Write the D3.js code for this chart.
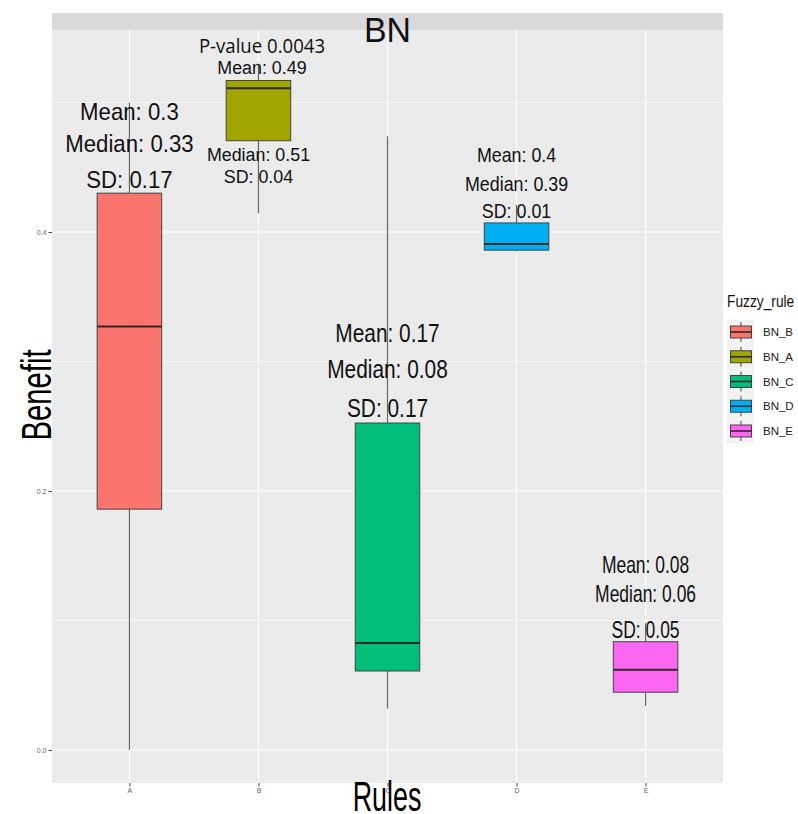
<!DOCTYPE html>
<html>
<head>
<meta charset="utf-8">
<script src="https://cdn.jsdelivr.net/npm/d3@7"></script>
<style>
  body { margin: 0; background: #fff; }
  svg { display: block; font-family: "Liberation Sans", Arial, sans-serif; }
</style>
</head>
<body>
<svg id="chart"></svg>
<script>
// categories and box statistics
var rules = ["A", "B", "C", "D", "E"];
var legendNames = ["BN_B", "BN_A", "BN_C", "BN_D", "BN_E"];
var whiskerLow  = [0.000, 0.4145, 0.032, 0.385, 0.034];
var q1          = [0.186, 0.4705, 0.061, 0.386, 0.0446];
var median      = [0.327, 0.511, 0.0826, 0.3907, 0.062];
var q3          = [0.430, 0.517, 0.2525, 0.407, 0.0836];
var whiskerHigh = [0.500, 0.530, 0.474, 0.421, 0.098];
var fills = ["#fc746e", "#a1a500", "#00be7a", "#00b0f3", "#fc67f2"];

// annotation lines (rule, y in data units, text)
var labelRule = ["A","A","A", "B","B","B","B", "C","C","C", "D","D","D", "E","E","E"];
var labelY = [0.4865, 0.4618, 0.434,
              0.5382, 0.522, 0.4548, 0.4378,
              0.3151, 0.2873, 0.2571,
              0.4543, 0.4317, 0.4108,
              0.1367, 0.1143, 0.0865];
var labelText = ["Mean: 0.3", "Median: 0.33", "SD: 0.17",
                 "P-value 0.0043", "Mean: 0.49", "Median: 0.51", "SD: 0.04",
                 "Mean: 0.17", "Median: 0.08", "SD: 0.17",
                 "Mean: 0.4", "Median: 0.39", "SD: 0.01",
                 "Mean: 0.08", "Median: 0.06", "SD: 0.05"];

var yTicks = [0, 0.2, 0.4];
var yMinor = [0.1, 0.3, 0.5];

var screen = { width: 798, height: 814 };
var panel = { left: 52, right: 723, top: 30, bottom: 783 };

// text look per rule (font size, horizontal squeeze)
var labelStyle = {
  A: { size: 24, sx: 0.925 },
  B: { size: 19, sx: 0.94 },
  C: { size: 25, sx: 0.835 },
  D: { size: 21, sx: 0.85 },
  E: { size: 23, sx: 0.76 }
};

var svg = d3.select("#chart")
  .attr("width", screen.width)
  .attr("height", screen.height);

var xScale = d3.scalePoint()
  .domain(rules)
  .range([panel.left, panel.right])
  .padding(0.6);
var boxW = xScale.step() * 0.5;

var yScale = d3.scaleLinear()
  .domain([-0.0255, 0.556])
  .range([panel.bottom, panel.top]);

// panel background
svg.append("rect")
  .attr("x", panel.left).attr("y", panel.top)
  .attr("width", panel.right - panel.left)
  .attr("height", panel.bottom - panel.top)
  .attr("fill", "#ebebeb");

// strip
svg.append("rect")
  .attr("x", panel.left).attr("y", 13)
  .attr("width", panel.right - panel.left)
  .attr("height", panel.top - 13)
  .attr("fill", "#d9d9d9");

// grid
var grid = svg.append("g");
grid.selectAll(".minor").data(yMinor).enter().append("line")
  .attr("x1", panel.left).attr("x2", panel.right)
  .attr("y1", function(d) { return yScale(d); })
  .attr("y2", function(d) { return yScale(d); })
  .attr("stroke", "#fff").attr("stroke-width", 0.6);
grid.selectAll(".major").data(yTicks).enter().append("line")
  .attr("x1", panel.left).attr("x2", panel.right)
  .attr("y1", function(d) { return yScale(d); })
  .attr("y2", function(d) { return yScale(d); })
  .attr("stroke", "#fff").attr("stroke-width", 1.2);
grid.selectAll(".vert").data(rules).enter().append("line")
  .attr("x1", function(d) { return xScale(d); })
  .attr("x2", function(d) { return xScale(d); })
  .attr("y1", panel.top).attr("y2", panel.bottom)
  .attr("stroke", "#fff").attr("stroke-width", 1.2);

// axes
var yAxis = d3.axisLeft(yScale)
  .tickValues(yTicks)
  .tickFormat(d3.format(".1f"))
  .tickSize(3.5)
  .tickPadding(2);
var yG = svg.append("g")
  .attr("transform", "translate(" + panel.left + ",0)")
  .call(yAxis);
yG.select(".domain").remove();
yG.selectAll("line").attr("stroke", "#444");
yG.selectAll("text").attr("font-size", 7).attr("fill", "#666")
  .attr("font-family", "Liberation Sans, Arial, sans-serif");

var xAxis = d3.axisBottom(xScale).tickSize(3.5).tickPadding(2);
var xG = svg.append("g")
  .attr("transform", "translate(0," + panel.bottom + ")")
  .call(xAxis);
xG.select(".domain").remove();
xG.selectAll("line").attr("stroke", "#444");
xG.selectAll("text").attr("font-size", 7).attr("fill", "#666")
  .attr("font-family", "Liberation Sans, Arial, sans-serif");

// boxes
var boxes = svg.append("g").selectAll("g")
  .data(rules)
  .enter()
  .append("g");

boxes.append("line")
  .attr("x1", function(d) { return xScale(d); })
  .attr("x2", function(d) { return xScale(d); })
  .attr("y1", function(d, i) { return yScale(whiskerHigh[i]); })
  .attr("y2", function(d, i) { return yScale(q3[i]); })
  .attr("stroke", "#666").attr("stroke-width", 1.2);
boxes.append("line")
  .attr("x1", function(d) { return xScale(d); })
  .attr("x2", function(d) { return xScale(d); })
  .attr("y1", function(d, i) { return yScale(q1[i]); })
  .attr("y2", function(d, i) { return yScale(whiskerLow[i]); })
  .attr("stroke", "#666").attr("stroke-width", 1.2);
boxes.append("rect")
  .attr("x", function(d) { return xScale(d) - boxW / 2; })
  .attr("y", function(d, i) { return yScale(q3[i]); })
  .attr("width", boxW)
  .attr("height", function(d, i) { return yScale(q1[i]) - yScale(q3[i]); })
  .attr("fill", function(d, i) { return fills[i]; })
  .attr("stroke", "#444").attr("stroke-width", 1);
boxes.append("line")
  .attr("x1", function(d) { return xScale(d) - boxW / 2; })
  .attr("x2", function(d) { return xScale(d) + boxW / 2; })
  .attr("y1", function(d, i) { return yScale(median[i]); })
  .attr("y2", function(d, i) { return yScale(median[i]); })
  .attr("stroke", "#2a2a2a").attr("stroke-width", 2);

// annotations
var labels = svg.append("g").selectAll("text")
  .data(labelText)
  .enter()
  .append("text")
  .attr("transform", function(d, i) {
    var r = labelRule[i];
    var dx = (d.indexOf("P-value") == 0 || d == "Mean: 0.49") ? 3.5 : 0;
    return "translate(" + (xScale(r) + dx) + "," + yScale(labelY[i]) + ") scale(" + labelStyle[r].sx + ",1)";
  })
  .attr("text-anchor", "middle")
  .attr("font-size", function(d, i) { return labelStyle[labelRule[i]].size; })
  .attr("font-family", function(d) {
    return d.indexOf("P-value") == 0 ? "'Open Sans', sans-serif" : "'Liberation Sans', Arial, sans-serif";
  })
  .attr("fill", "#111")
  .text(function(d) { return d; });
labels.filter(function(d) { return d.indexOf("P-value") == 0; })
  .attr("font-size", 20)
  .attr("transform", function(d, i) {
    return "translate(" + (xScale("B") + 3.5) + "," + yScale(0.5382) + ") scale(0.93,1)";
  });

// strip title
svg.append("text")
  .attr("transform", "translate(" + ((panel.left + panel.right) / 2) + ",42) scale(0.94,1)")
  .attr("text-anchor", "middle")
  .attr("font-size", 36)
  .attr("fill", "#111")
  .text("BN");

// axis titles
svg.append("text")
  .attr("transform", "translate(387,811) scale(0.64,1)")
  .attr("text-anchor", "middle")
  .attr("font-size", 42)
  .attr("fill", "#000")
  .text("Rules");
svg.append("text")
  .attr("transform", "translate(51,395) rotate(-90) scale(0.68,1)")
  .attr("text-anchor", "middle")
  .attr("font-size", 43)
  .attr("fill", "#000")
  .text("Benefit");

// legend
var legend = svg.append("g").attr("transform", "translate(727,0)");
legend.append("text")
  .attr("transform", "translate(0,307) scale(0.86,1)")
  .attr("font-size", 16)
  .attr("fill", "#111")
  .text("Fuzzy_rule");

var keyH = 24.75;
var keys = legend.selectAll(".key")
  .data(legendNames)
  .enter()
  .append("g")
  .attr("transform", function(d, i) { return "translate(0," + (332 + i * keyH) + ")"; });
keys.append("rect")
  .attr("x", 0).attr("y", -keyH / 2)
  .attr("width", 27).attr("height", keyH)
  .attr("fill", "#f2f2f2");
keys.append("line")
  .attr("x1", 14).attr("x2", 14)
  .attr("y1", -10).attr("y2", 10)
  .attr("stroke", "#444").attr("stroke-width", 1);
keys.append("rect")
  .attr("x", 3.5).attr("y", -6)
  .attr("width", 21).attr("height", 12)
  .attr("fill", function(d, i) { return fills[i]; })
  .attr("stroke", "#444").attr("stroke-width", 1);
keys.append("line")
  .attr("x1", 3.5).attr("x2", 24.5)
  .attr("y1", 0).attr("y2", 0)
  .attr("stroke", "#2a2a2a").attr("stroke-width", 1.6);
keys.append("text")
  .attr("x", 36).attr("y", 4)
  .attr("font-size", 11.5)
  .attr("fill", "#222")
  .text(function(d) { return d; });
</script>
</body>
</html>
